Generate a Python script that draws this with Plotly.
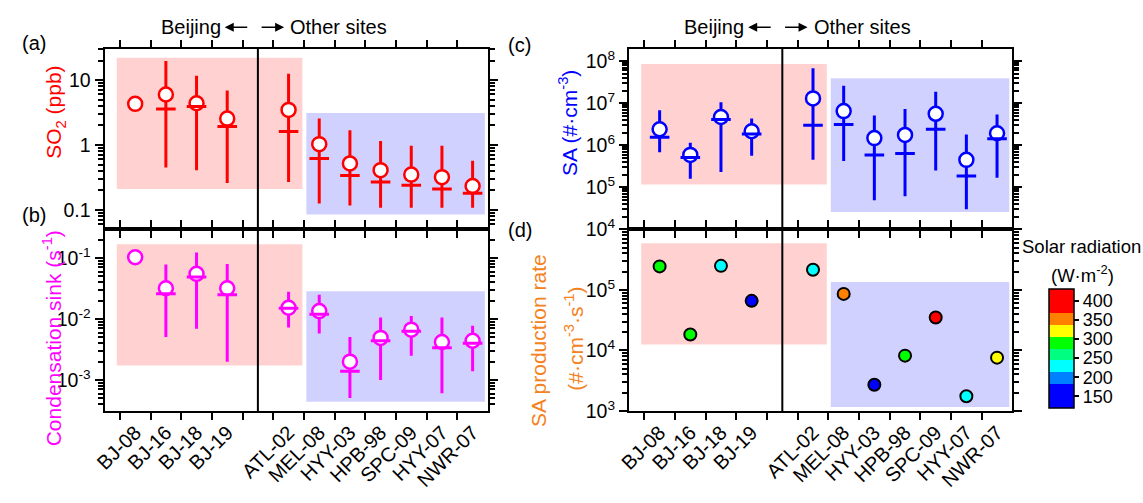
import plotly.graph_objects as go

# ---------------- data ----------------
sites_bj = ["BJ-08", "BJ-16", "BJ-18", "BJ-19"]
sites_other = ["ATL-02", "MEL-08", "HYY-03", "HPB-98", "SPC-09", "HYY-07", "NWR-07"]

so2_mean = [4.3, 6.0, 4.4, 2.55, 3.47, 1.03, 0.52, 0.41, 0.35, 0.32, 0.234]
so2_median = [None, 3.6, 3.9, 1.93, 1.62, 0.62, 0.34, 0.27, 0.24, 0.21, 0.18]
so2_low = [None, 0.45, 0.41, 0.26, 0.27, 0.126, 0.117, 0.108, 0.108, 0.108, 0.108]
so2_high = [None, 19.6, 11.7, 6.9, 12.5, 2.55, 1.68, 1.15, 0.97, 0.97, 0.57]

cs_mean = [0.103, 0.032, 0.055, 0.032, 0.0153, 0.0135, 0.002, 0.0049, 0.0067, 0.0042, 0.0044]
cs_median = [None, 0.026, 0.049, 0.025, 0.015, 0.012, 0.0014, 0.0044, 0.0063, 0.0034, 0.0040]
cs_low = [None, 0.0051, 0.0069, 0.002, 0.0073, 0.0058, 0.00051, 0.001, 0.0025, 0.00061, 0.0014]
cs_high = [None, 0.078, 0.123, 0.08, 0.028, 0.025, 0.0051, 0.0106, 0.0112, 0.0106, 0.0078]

sa_mean = [2.4e6, 5.9e5, 4.7e6, 2.15e6, 1.3e7, 6.5e6, 1.48e6, 1.76e6, 5.6e6, 4.5e5, 1.93e6]
sa_median = [1.55e6, 5.1e5, 4.1e6, 1.85e6, 3.0e6, 3.1e6, 5.9e5, 6.4e5, 2.4e6, 1.86e5, 1.43e6]
sa_low = [6.8e5, 1.6e5, 2.3e5, 5.6e5, 4.5e5, 4.2e5, 4.9e4, 6.1e4, 2.5e5, 3.0e4, 1.7e5]
sa_high = [6.8e6, 1.15e6, 1.05e7, 4.3e6, 6.8e7, 2.6e7, 5.1e6, 7.3e6, 1.87e7, 1.8e6, 5.4e6]

sa_prod = [2.45e5, 1.83e4, 2.5e5, 6.6e4, 2.15e5, 8.6e4, 2.7e3, 8.2e3, 3.5e4, 1.75e3, 7.6e3]
solar_rad = [290, 290, 228, 160, 228, 350, 160, 290, 390, 228, 320]

# shaded boxes: [x0, x1] and per-panel [y0, y1]
box_bj_x = [0.4, 6.45]
box_other_x = [6.58, 12.4]
box_a = {"bj": [0.21, 22], "other": [0.085, 3.1]}
box_b = {"bj": [0.00174, 0.168], "other": [0.00044, 0.0286]}
box_c = {"bj": [1.17e5, 8.5e7], "other": [2.6e4, 3.9e7]}
box_d = {"bj": [1.25e4, 5.9e5], "other": [1.16e3, 1.35e5]}

# tick labels
ticks_a = ([0.1, 1, 10], ["0.1", "1", "10"])
ticks_b = ([1e-3, 1e-2, 1e-1], ["10<sup>-3</sup>", "10<sup>-2</sup>", "10<sup>-1</sup>"])
ticks_c = ([1e4, 1e5, 1e6, 1e7, 1e8], ["10<sup>4</sup>", "10<sup>5</sup>", "10<sup>6</sup>", "10<sup>7</sup>", "10<sup>8</sup>"])
ticks_d = ([1e3, 1e4, 1e5], ["10<sup>3</sup>", "10<sup>4</sup>", "10<sup>5</sup>"])
cbar_ticks = [150, 200, 250, 300, 350, 400]

# ---------------- layout helpers ----------------
W, H = 1143, 503
FONT = "Arial, 'Liberation Sans', sans-serif"
RED, MAG, BLUE, ORANGE = "rgb(255,0,0)", "rgb(255,0,255)", "rgb(0,0,255)", "rgb(245,130,32)"
PINK_FILL, BLUE_FILL = "rgba(255,0,0,0.18)", "rgba(0,0,255,0.18)"

sites = sites_bj + sites_other
xpos = [i + 1 for i in range(len(sites_bj))] + [len(sites_bj) + 2 + i for i in range(len(sites_other))]
sep_x = len(sites_bj) + 1
half_ticks = [p + 0.5 for p in range(0, 12)]

def minor_log(lo_exp, hi_exp):
    return [m * 10.0 ** e for e in range(lo_exp, hi_exp) for m in range(2, 10)]

def px_x(p):
    return p / W

def px_y(p):
    return 1 - p / H

dom_left = [px_x(93.5), px_x(481)]
dom_right = [px_x(623.5), px_x(1011)]
dom_top = [px_y(234), px_y(49)]
dom_bot = [px_y(420), px_y(234)]

fig = go.Figure()

def add_stat_panel(xa, ya, color, mean, median, low, high):
    lx, ly = [], []
    for x, lo, hi in zip(xpos, low, high):
        if lo is None or hi is None:
            continue
        lx += [x, x, None]
        ly += [lo, hi, None]
    fig.add_trace(go.Scatter(x=lx, y=ly, mode="lines", line=dict(color=color, width=3),
                             xaxis=xa, yaxis=ya, showlegend=False, hoverinfo="skip"))
    fig.add_trace(go.Scatter(x=xpos, y=mean, mode="markers",
                             marker=dict(symbol="circle", size=14, color="white",
                                         line=dict(color=color, width=2.5)),
                             xaxis=xa, yaxis=ya, showlegend=False))
    fig.add_trace(go.Scatter(x=xpos, y=median, mode="markers",
                             marker=dict(symbol="line-ew", size=14,
                                         line=dict(color=color, width=3)),
                             xaxis=xa, yaxis=ya, showlegend=False))

add_stat_panel("x", "y", RED, so2_mean, so2_median, so2_low, so2_high)
add_stat_panel("x2", "y2", MAG, cs_mean, cs_median, cs_low, cs_high)
add_stat_panel("x3", "y3", BLUE, sa_mean, sa_median, sa_low, sa_high)

# discrete colorscale for solar radiation
cmin, cmax = 120, 430
band_colors = ["rgb(0,0,255)", "rgb(0,0,255)", "rgb(0,128,255)", "rgb(0,255,255)",
               "rgb(0,255,128)", "rgb(0,255,0)", "rgb(255,255,0)", "rgb(255,128,0)",
               "rgb(255,0,0)", "rgb(255,0,0)"]
n = len(band_colors)
cscale = []
for i, c in enumerate(band_colors):
    cscale.append([i / n, c])
    cscale.append([(i + 1) / n, c])

fig.add_trace(go.Scatter(
    x=xpos, y=sa_prod, mode="markers", xaxis="x4", yaxis="y4", showlegend=False,
    marker=dict(symbol="circle", size=12, color=solar_rad, colorscale=cscale,
                cmin=cmin, cmax=cmax, line=dict(color="black", width=2),
                showscale=True,
                colorbar=dict(x=px_x(1048), xanchor="left", xpad=0,
                              y=px_y(356), yanchor="middle", ypad=0,
                              len=122 / H, lenmode="fraction",
                              thickness=25, thicknessmode="pixels",
                              outlinecolor="black", outlinewidth=1.5,
                              tickvals=cbar_ticks, ticks="outside", ticklen=5,
                              tickwidth=1.5, tickcolor="black",
                              tickfont=dict(family=FONT, size=18, color="black"))),
))

# ---------------- axes ----------------
def xaxis_cfg(domain, anchor, labels):
    return dict(domain=domain, anchor=anchor, range=[0, 12.5],
                showline=True, linecolor="black", linewidth=2, mirror="ticks",
                showgrid=False, zeroline=False,
                tickmode="array", tickvals=xpos, ticktext=sites, ticks="", ticklen=0,
                showticklabels=labels, tickangle=-45,
                tickfont=dict(family=FONT, size=20, color="black"),
                minor=dict(tickmode="array", tickvals=half_ticks, ticks="outside",
                           ticklen=7, tickwidth=1.5, tickcolor="black", showgrid=False))

def yaxis_cfg(domain, anchor, rng, ticks, minor_vals):
    return dict(domain=domain, anchor=anchor, type="log", range=rng,
                showline=True, linecolor="black", linewidth=2, mirror="ticks",
                showgrid=False, zeroline=False,
                tickmode="array", tickvals=ticks[0], ticktext=ticks[1],
                ticks="outside", ticklen=8, tickwidth=1.5, tickcolor="black",
                tickfont=dict(family=FONT, size=19.5, color="black"),
                minor=dict(tickmode="array", tickvals=minor_vals, ticks="outside",
                           ticklen=5, tickwidth=1.5, tickcolor="black", showgrid=False))

rng_a, rng_b, rng_c, rng_d = [-1.30, 1.481], [-3.507, -0.531], [3.999, 8.293], [2.999, 6.0]
fig.update_layout(
    xaxis=xaxis_cfg(dom_left, "y", False),
    xaxis2=xaxis_cfg(dom_left, "y2", True),
    xaxis3=xaxis_cfg(dom_right, "y3", False),
    xaxis4=xaxis_cfg(dom_right, "y4", True),
    yaxis=yaxis_cfg(dom_top, "x", rng_a, ticks_a, minor_log(-2, 2)),
    yaxis2=yaxis_cfg(dom_bot, "x2", rng_b, ticks_b, minor_log(-4, 0)),
    yaxis3=yaxis_cfg(dom_top, "x3", rng_c, ticks_c, minor_log(4, 9)),
    yaxis4=yaxis_cfg(dom_bot, "x4", rng_d, ticks_d, minor_log(3, 6)),
)

# ---------------- shapes ----------------
shapes = []
for xa, ya, box in [("x", "y", box_a), ("x2", "y2", box_b), ("x3", "y3", box_c), ("x4", "y4", box_d)]:
    for key, bx, fill in [("bj", box_bj_x, PINK_FILL), ("other", box_other_x, BLUE_FILL)]:
        shapes.append(dict(type="rect", xref=xa, yref=ya, x0=bx[0], x1=bx[1],
                           y0=box[key][0], y1=box[key][1],
                           fillcolor=fill, line=dict(width=0), layer="below"))
    shapes.append(dict(type="line", xref=xa, yref=ya + " domain", x0=sep_x, x1=sep_x,
                       y0=0, y1=1, line=dict(color="black", width=2)))
fig.update_layout(shapes=shapes)

# ---------------- annotations ----------------
ann = []
def text(x, y, s, size=20, color="black", angle=0, xanchor="center"):
    ann.append(dict(x=px_x(x), y=px_y(y), xref="paper", yref="paper", text=s,
                    showarrow=False, textangle=angle, xanchor=xanchor, yanchor="middle",
                    font=dict(family=FONT, size=size, color=color)))

def arrow(x_head, x_tail, y):
    ann.append(dict(x=px_x(x_head), y=px_y(y), xref="paper", yref="paper", text="",
                    showarrow=True, ax=x_tail - x_head, ay=0, arrowhead=2,
                    arrowsize=1.2, arrowwidth=1.5, arrowcolor="black", standoff=0))

for sx in [248, 777]:
    text(sx - 35, 27, "Beijing", xanchor="right")
    text(sx + 31, 27, "Other sites", xanchor="left")
    arrow(sx - 33, sx - 9, 27)
    arrow(sx + 27, sx + 3, 27)

text(22, 43, "(a)")
text(22, 219, "(b)")
text(513, 45, "(c)")
text(513, 235, "(d)")

text(44, 114, "SO<sub>2</sub> (ppb)", size=21, color=RED, angle=-90)
text(40, 346, "Condensation sink (s<sup>-1</sup>)", size=21, color=MAG, angle=-90)
text(562, 125, "SA (#·cm<sup>-3</sup>)", size=21, color=BLUE, angle=-90)
text(532, 348, "SA production rate", size=21, color=ORANGE, angle=-90)
text(568, 346, "(#·cm<sup>-3</sup>·s<sup>-1</sup>)", size=21, color=ORANGE, angle=-90)

text(1081, 251, "Solar radiation", size=18.5)
text(1082, 280, "(W·m<sup>-2</sup>)", size=18.5)

fig.update_layout(annotations=ann)

fig.update_layout(width=W, height=H, margin=dict(l=0, r=0, t=0, b=0),
                  plot_bgcolor="white", paper_bgcolor="white",
                  font=dict(family=FONT, size=18, color="black"), showlegend=False)

fig.write_html("out.html")
